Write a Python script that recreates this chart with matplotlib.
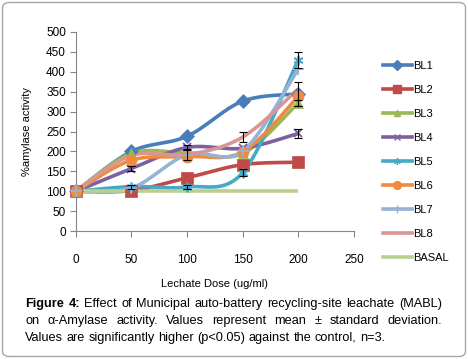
"""
Amylase activity vs leachate dose (MABL), Excel-style smoothed line chart.
"""

import matplotlib

matplotlib.use("Agg")
import matplotlib.pyplot as plt
import numpy as np
from matplotlib.patches import FancyBboxPatch

plt.rcParams["font.family"] = ["Liberation Sans", "DejaVu Sans"]

DOSE = [0, 50, 100, 150, 200]
SERIES = ["BL1", "BL2", "BL3", "BL4", "BL5", "BL6", "BL7", "BL8", "BASAL"]

BL1 = [100, 200, 238, 326, 344]
BL2 = [100, 102, 134, 167, 173]
BL3 = [100, 195, 196, 195, 322]
BL4 = [100, 157, 210, 208, 245]
BL5 = [100, 112, 111, 147, 430]
BL6 = [100, 178, 187, 199, 338]
BL7 = [100, 108, 192, 201, 407]
BL8 = [100, 190, 192, 236, 357]
BASAL = [100, 100, 100, 100, 100]

# only the bars that show past the markers in the original
BL1_ERR = [0, 0, 0, 0, 30]
BL2_ERR = [0, 0, 0, 0, 0]
BL3_ERR = [0, 0, 0, 0, 7]
BL4_ERR = [0, 7, 7, 0, 11]
BL5_ERR = [0, 5, 6, 8, 20]
BL6_ERR = [0, 0, 0, 0, 0]
BL7_ERR = [0, 0, 14, 0, 0]
BL8_ERR = [0, 0, 0, 13, 0]
BASAL_ERR = [0, 0, 0, 0, 0]

VALUES = [BL1, BL2, BL3, BL4, BL5, BL6, BL7, BL8, BASAL]
ERRORS = [BL1_ERR, BL2_ERR, BL3_ERR, BL4_ERR, BL5_ERR, BL6_ERR, BL7_ERR, BL8_ERR, BASAL_ERR]

COLORS = ["#4A7EBB", "#BE4B48", "#98B954", "#7D60A0", "#46AAC5",
          "#F08A3C", "#95B3D7", "#D99694", "#B9D090"]
MARKERS = ["D", "s", "^", "x", (6, 2, 0), "o", "+", None, None]
MSIZES = [7, 8.5, 7, 6, 7, 8, 8, 0, 0]

CAPTION = [
    "Figure 4: Effect of Municipal auto-battery recycling-site leachate (MABL)",
    "on \u03b1-Amylase activity. Values represent mean \u00b1 standard deviation.",
    "Values are significantly higher (p<0.05) against the control, n=3.",
]


def smooth(x, y, n=40):
    # Excel-like smoothing: cubic bezier with catmull-rom control points
    x = np.asarray(x, float)
    y = np.asarray(y, float)
    px = np.concatenate([[x[0]], x, [x[-1]]])
    py = np.concatenate([[y[0]], y, [y[-1]]])
    t = np.linspace(0, 1, n)[:, None]
    out_x, out_y = [], []
    for i in range(1, len(px) - 2):
        p0 = np.array([px[i], py[i]])
        p3 = np.array([px[i + 1], py[i + 1]])
        p1 = p0 + (np.array([px[i + 1], py[i + 1]]) - np.array([px[i - 1], py[i - 1]])) / 6
        p2 = p3 - (np.array([px[i + 2], py[i + 2]]) - np.array([px[i], py[i]])) / 6
        pts = ((1 - t) ** 3) * p0 + 3 * ((1 - t) ** 2) * t * p1 + 3 * (1 - t) * t ** 2 * p2 + t ** 3 * p3
        out_x.append(pts[:, 0])
        out_y.append(pts[:, 1])
    return np.concatenate(out_x), np.concatenate(out_y)


W, H = 468, 359
fig = plt.figure(figsize=(W / 100, H / 100), dpi=100)
ax = fig.add_axes([75.7 / W, 1 - 231.3 / H, (354 - 75.7) / W, (231.3 - 31.7) / H])

for name, vals, errs, color, marker, ms in zip(SERIES, VALUES, ERRORS, COLORS, MARKERS, MSIZES):
    sx, sy = smooth(DOSE, vals)
    ax.plot(sx, sy, color=color, lw=2.6, solid_capstyle="butt", zorder=3, clip_on=False)
    keep = [i for i, e in enumerate(errs) if e > 0]
    if keep:
        ax.errorbar([DOSE[i] for i in keep], [vals[i] for i in keep],
                    yerr=[errs[i] for i in keep], fmt="none", ecolor="black",
                    elinewidth=0.8, capsize=3, capthick=0.8, zorder=5, clip_on=False)
    if marker is not None:
        mew = 1.3 if marker in ("x", "+") or isinstance(marker, tuple) else 0.5
        ax.plot(DOSE, vals, ls="none", marker=marker, ms=ms, color=color, mec=color,
                mew=mew, zorder=4, clip_on=False)
    # legend proxy
    ax.plot([], [], color=color, lw=2.6, marker=marker, ms=ms * 0.7 if ms else 0,
            mec=color, mew=1.0, label=name)

ax.set_xlim(0, 250)
ax.set_ylim(0, 500)
ax.set_xticks([0, 50, 100, 150, 200, 250])
ax.set_yticks(range(0, 501, 50))
for s in ["top", "right"]:
    ax.spines[s].set_visible(False)
for s in ["left", "bottom"]:
    ax.spines[s].set_color("#868686")
    ax.spines[s].set_linewidth(0.8)
ax.tick_params(axis="both", direction="out", length=4, width=0.8, color="#868686",
               labelsize=8.5, labelcolor="black")
ax.tick_params(axis="x", pad=12)
ax.tick_params(axis="y", pad=3)
ax.set_xlabel("Lechate Dose (ug/ml)", fontsize=8)
ax.set_ylabel("%amylase activity", fontsize=8, labelpad=10)
ax.xaxis.set_label_coords(0.5, -(279 - 231.3) / (231.3 - 31.7))

fig.legend(loc="upper left", bbox_to_anchor=(383 / W, 1 - 61 / H), frameon=False,
           fontsize=8, handlelength=2.6, handletextpad=0.1, labelspacing=1.26,
           borderaxespad=0, borderpad=0)

# caption, justified like the original
renderer = fig.canvas.get_renderer()
left, right = 25, 442
baselines = [307, 324, 341]
fs = 9.2
probe1 = fig.text(0, 0, "a a", fontsize=fs)
probe2 = fig.text(0, 0, "aa", fontsize=fs)
space_w = probe1.get_window_extent(renderer).width - probe2.get_window_extent(renderer).width
probe1.remove()
probe2.remove()
for li, line in enumerate(CAPTION):
    words = line.split(" ")
    texts = []
    for i, w in enumerate(words):
        t = fig.text(0, 1 - baselines[li] / H, w, fontsize=fs, va="baseline", ha="left",
                     fontweight="bold" if (li == 0 and i < 2) else "normal")
        texts.append(t)
    widths = [t.get_window_extent(renderer).width for t in texts]
    if li < 2:
        gap = (right - left - sum(widths)) / (len(words) - 1)
    else:
        gap = space_w
    x = left
    for t, w in zip(texts, widths):
        t.set_x(x / W)
        x += w + gap

border = FancyBboxPatch((2.5 / W, 2.5 / H), (W - 5) / W, (H - 5) / H,
                        boxstyle="round,pad=0,rounding_size=0.015",
                        transform=fig.transFigure, fill=False, ec="#A6A6A6", lw=1.0)
fig.add_artist(border)

fig.savefig("out.png", dpi=100, facecolor="white")
